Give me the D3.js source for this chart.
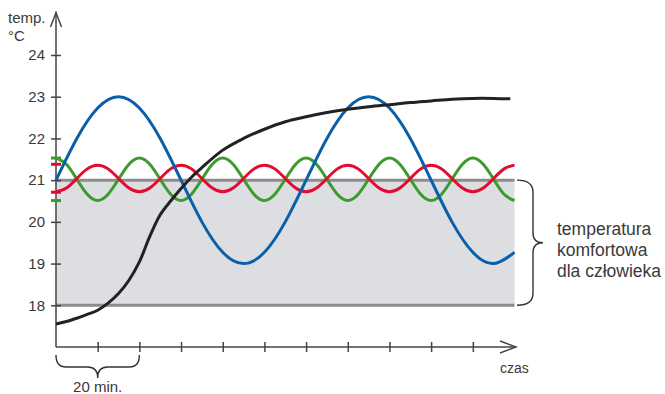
<!DOCTYPE html>
<html><head><meta charset="utf-8">
<script src="https://cdn.jsdelivr.net/npm/d3@7"></script>
<style>body{margin:0;background:#fff}svg{display:block}text{font-family:"Liberation Sans",Arial,sans-serif;fill:#3a3a3a}</style>
</head><body>
<script>
// ---- data ----
const yTicks = [18, 19, 20, 21, 22, 23, 24];
const xTicks = [10, 20, 30, 40, 50, 60, 70, 80, 90, 100];
const comfortRange = [18, 21];
const redRange = [20.71, 21.38];
const greenRange = [20.51, 21.53];

const blueTimes = [0,5,10,15,20,25,30,35,40,45,50,55,60,65,70,75,80,85,90,95,100,105,110];
const blueTemps = [21,22,22.73,23,22.73,22,21,20,19.27,19,19.27,20,21,22,22.73,23,22.73,22,21,20,19.27,19,19.27];

const waveTimes = [0,2.5,5,7.5,10,12.5,15,17.5,20,22.5,25,27.5,30,32.5,35,37.5,40,42.5,45,47.5,50,52.5,55,57.5,60,62.5,65,67.5,70,72.5,75,77.5,80,82.5,85,87.5,90,92.5,95,97.5,100,102.5,105,107.5,110];
const greenTemps = [21.53,21.38,21.02,20.66,20.51,20.66,21.02,21.38,
  21.53,21.38,21.02,20.66,20.51,20.66,21.02,21.38,
  21.53,21.38,21.02,20.66,20.51,20.66,21.02,21.38,
  21.53,21.38,21.02,20.66,20.51,20.66,21.02,21.38,
  21.53,21.38,21.02,20.66,20.51,20.66,21.02,21.38,
  21.53,21.38,21.02,20.66,20.51];
const redTemps = [20.72,20.81,21.04,21.27,21.36,21.27,21.04,20.81,
  20.72,20.81,21.04,21.27,21.36,21.27,21.04,20.81,
  20.72,20.81,21.04,21.27,21.36,21.27,21.04,20.81,
  20.72,20.81,21.04,21.27,21.36,21.27,21.04,20.81,
  20.72,20.81,21.04,21.27,21.36,21.27,21.04,20.81,
  20.72,20.81,21.04,21.27,21.36];

const blackTimes = [0,2.5,5,7.5,10,12.5,15,17.5,20,22.5,25,27.5,30,32.5,35,40,45,50,55,60,65,70,75,80,85,90,95,100,105,109];
const blackTemps = [17.55,17.61,17.69,17.78,17.88,18.05,18.28,18.6,19.04,19.65,20.17,20.5,20.8,21.07,21.3,21.72,22.0,22.22,22.4,22.52,22.62,22.7,22.76,22.81,22.86,22.9,22.94,22.96,22.96,22.95];

const labelLines = ["temperatura", "komfortowa", "dla człowieka"];

// ---- chart ----
const W = 665, H = 394;
const svg = d3.select("body").append("svg").attr("width", W).attr("height", H);
const x = d3.scaleLinear().domain([0, 110]).range([56, 514.5]);
const y = d3.scaleLinear().domain([17, 24]).range([347, 55]);
const axisCol = "#444";

// comfort band
svg.append("rect").attr("x", x(0)).attr("y", y(comfortRange[1]))
  .attr("width", x(110) - x(0)).attr("height", y(comfortRange[0]) - y(comfortRange[1]))
  .attr("fill", "#dddee1");
comfortRange.forEach(v => svg.append("line").attr("x1", x(0)).attr("x2", x(110))
  .attr("y1", y(v)).attr("y2", y(v)).attr("stroke", "#8c8c8c").attr("stroke-width", 3));

// axes
const ya = svg.append("g").attr("transform", `translate(${x(0)},0)`)
  .call(d3.axisLeft(y).tickValues(yTicks).tickFormat(d3.format("d")).tickSize(5).tickPadding(6));
ya.select(".domain").remove();
ya.selectAll(".tick line").attr("x1", -5).attr("x2", 5).attr("stroke", axisCol).attr("stroke-width", 1.5);
ya.selectAll(".tick text").style("font-size", "15px").attr("fill", "#3a3a3a");

const xa = svg.append("g").attr("transform", `translate(0,${y(17)})`)
  .call(d3.axisBottom(x).tickValues(xTicks).tickSize(5).tickFormat(""));
xa.select(".domain").remove();
xa.selectAll(".tick line").attr("y1", -5).attr("y2", 5).attr("stroke", axisCol).attr("stroke-width", 1.5);

svg.append("line").attr("x1", x(0)).attr("x2", x(0)).attr("y1", 12).attr("y2", y(17)).attr("stroke", axisCol).attr("stroke-width", 1.5);
svg.append("path").attr("d", `M${x(0)-5.5},27 L${x(0)},12.5 L${x(0)+5.5},27`).attr("fill", "none").attr("stroke", axisCol).attr("stroke-width", 1.5);
svg.append("line").attr("x1", x(0)).attr("x2", 516).attr("y1", y(17)).attr("y2", y(17)).attr("stroke", axisCol).attr("stroke-width", 1.5);
svg.append("path").attr("d", `M500,${y(17)-6} L516,${y(17)} L500,${y(17)+6}`).attr("fill", "none").attr("stroke", axisCol).attr("stroke-width", 1.5);

// range marks on y axis
const marks = [[redRange, "#e30b2f"], [greenRange, "#3c9b2c"]];
marks.forEach(([r, c]) => r.forEach(v => svg.append("line")
  .attr("x1", x(0) - 5).attr("x2", x(0) + 5).attr("y1", y(v)).attr("y2", y(v))
  .attr("stroke", c).attr("stroke-width", 3)));

// curves
function drawLine(times, vals, color, curve) {
  const pts = times.map((t, i) => [t, vals[i]]);
  svg.append("path").datum(pts)
    .attr("d", d3.line().x(d => x(d[0])).y(d => y(d[1])).curve(curve))
    .attr("fill", "none").attr("stroke", color).attr("stroke-width", 3).attr("stroke-linecap", "butt");
}
drawLine(waveTimes, greenTemps, "#3c9b2c", d3.curveNatural);
drawLine(waveTimes, redTemps, "#e30b2f", d3.curveNatural);
drawLine(blueTimes, blueTemps, "#0a5fab", d3.curveNatural);
drawLine(blackTimes, blackTemps, "#222", d3.curveCatmullRom.alpha(0.5));

// axis labels
svg.append("text").attr("x", 8).attr("y", 23).style("font-size", "15px").text("temp.");
svg.append("text").attr("x", 8).attr("y", 41).style("font-size", "15px").text("°C");
svg.append("text").attr("x", 500).attr("y", 373).style("font-size", "14px").text("czas");

// bottom brace (20 min)
const bx0 = x(0), bx1 = x(20), bxm = x(10), by0 = 355, bys = 367, byt = 378;
svg.append("path").attr("d",
  `M${bx0},${by0} Q${bx0},${bys} ${bx0+10},${bys} L${bxm-10},${bys} Q${bxm},${bys} ${bxm},${byt} Q${bxm},${bys} ${bxm+10},${bys} L${bx1-10},${bys} Q${bx1},${bys} ${bx1},${by0}`)
  .attr("fill", "none").attr("stroke", "#333").attr("stroke-width", 1.4);
svg.append("text").attr("x", bxm).attr("y", 392).attr("text-anchor", "middle").style("font-size", "15px").text("20 min.");

// right brace (comfort)
const rx0 = 517, rxs = 533, rxt = 543, ry0 = y(comfortRange[1]), ry1 = y(comfortRange[0]), rym = (ry0 + ry1) / 2;
svg.append("path").attr("d",
  `M${rx0},${ry0} Q${rxs},${ry0} ${rxs},${ry0+12} L${rxs},${rym-10} Q${rxs},${rym} ${rxt},${rym} Q${rxs},${rym} ${rxs},${rym+10} L${rxs},${ry1-12} Q${rxs},${ry1} ${rx0},${ry1}`)
  .attr("fill", "none").attr("stroke", "#333").attr("stroke-width", 1.4);
const tl = svg.append("text").attr("x", 557).attr("y", 235).style("font-size", "17.5px");
labelLines.forEach((s, i) => tl.append("tspan").attr("x", 557).attr("y", 235 + i * 21).text(s));
</script>
</body></html>
